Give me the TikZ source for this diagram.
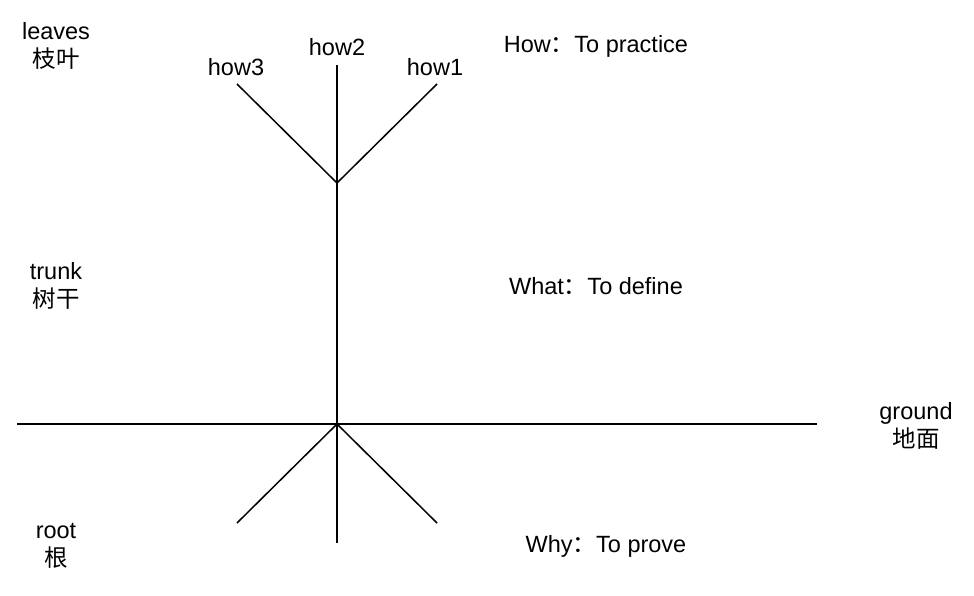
\documentclass[tikz,border=0pt]{standalone}
\usepackage{fontspec}
\setmainfont{Liberation Sans}
\newfontfamily\cjk{Noto Sans CJK SC}
\usetikzlibrary{positioning}

\begin{document}
\begin{tikzpicture}[
    x=1pt, y=-1pt,
    label/.style={font=\fontsize{23.5}{28}\selectfont, align=center, inner sep=0pt},
    line/.style={line width=1.5pt, black}
]
    \useasboundingbox (0,0) rectangle (974,596);

    % tree points
    \coordinate (top) at (337,65);
    \coordinate (fork) at (337,183);
    \coordinate (branchL) at (237,84);
    \coordinate (branchR) at (437,84);
    \coordinate (base) at (337,424);
    \coordinate (bottom) at (337,543);
    \coordinate (rootL) at (237,523);
    \coordinate (rootR) at (437,523);
    \coordinate (groundL) at (17,424);
    \coordinate (groundR) at (817,424);

    \node[label] (leaves) at (56,46) {leaves\\{\cjk 枝叶}};
    \node[label] (trunk) at (56,286) {trunk\\{\cjk 树干}};
    \node[label] (root) at (56,546) {root\\{\cjk 根}};
    \node[label] (ground) at (916,426) {ground\\{\cjk 地面}};

    \node[label] (how2) at (337,47) {how2};
    \node[label] (how3) at (236,67) {how3};
    \node[label] (how1) at (435,67) {how1};

    \node[label] (how) at (596,46) {How{\cjk ：}To practice};
    \node[label] (what) at (596,286) {What{\cjk ：}To define};
    \node[label] (why) at (606,546) {Why{\cjk ：}To prove};

    \draw[line] (top) -- (bottom);
    \draw[line] (branchL) -- (fork) -- (branchR);
    \draw[line] (groundL) -- (groundR);
    \draw[line] (rootL) -- (base) -- (rootR);
\end{tikzpicture}
\end{document}
